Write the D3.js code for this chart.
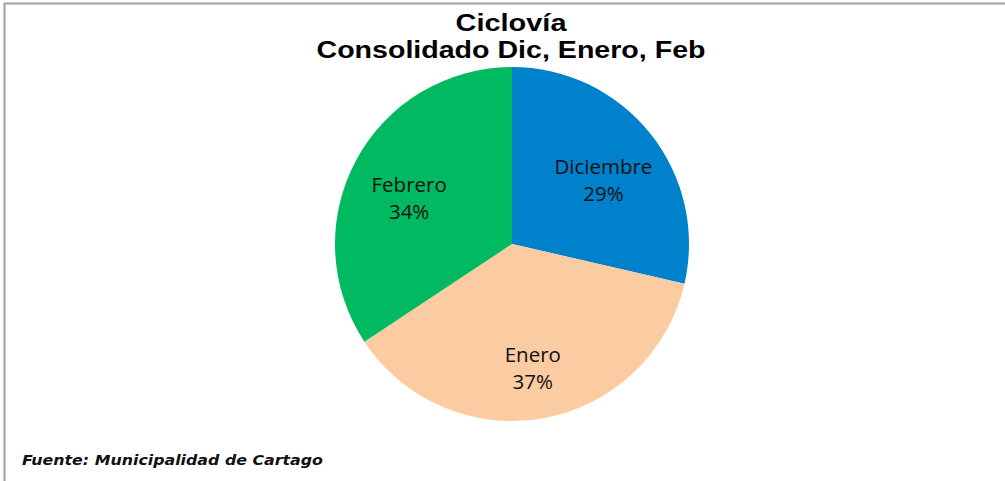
<!DOCTYPE html>
<html>
<head>
<meta charset="utf-8">
<script src="https://cdn.jsdelivr.net/npm/d3@7"></script>
<style>
  body { margin: 0; background: #fff; }
  svg { display: block; }
</style>
</head>
<body>
<div id="chart"></div>
<script>
// data (share of the three months)
const months = ["Diciembre", "Enero", "Febrero"];
const shares = [28.6, 37.1, 34.3];
const colors = ["#0081cc", "#fbcba1", "#00b960"];

const width = 1005;
const height = 481;

const svg = d3
  .select("#chart")
  .append("svg")
  .attr("width", width)
  .attr("height", height);

// chart area frame (only top and left edges show)
svg.append("path")
  .attr("d", `M4.5,${height} V3.5 H${width}`)
  .attr("fill", "none")
  .attr("stroke", "#a0a0a0")
  .attr("stroke-width", 2);

// title glyphs are stretched wide in the original, so stretch them too
const title = svg.append("text")
  .attr("text-anchor", "middle")
  .attr("font-family", "Liberation Sans, Arial, sans-serif")
  .attr("font-weight", "bold")
  .attr("font-size", 23)
  .attr("fill", "#000");
title.append("tspan").attr("x", 511).attr("y", 31)
  .attr("textLength", 111).attr("lengthAdjust", "spacingAndGlyphs")
  .text("Ciclovía");
title.append("tspan").attr("x", 511).attr("y", 58)
  .attr("textLength", 389).attr("lengthAdjust", "spacingAndGlyphs")
  .text("Consolidado Dic, Enero, Feb");

const cx = 512, cy = 244, radius = 177;

const pie = d3.pie().sort(null).value((d) => d.value);
const data = months.map((m, i) => ({ name: m, value: shares[i], color: colors[i] }));
const arcs = pie(data);
const total = d3.sum(shares);

const arc = d3.arc().innerRadius(0).outerRadius(radius);
const labelArc = d3.arc().innerRadius(radius * 0.66).outerRadius(radius * 0.66);

const g = svg.append("g").attr("transform", `translate(${cx},${cy})`);

g.selectAll("path.slice")
  .data(arcs)
  .enter()
  .append("path")
  .attr("class", "slice")
  .attr("d", arc)
  .attr("fill", (d) => d.data.color);

const labels = g.selectAll("text.lbl")
  .data(arcs)
  .enter()
  .append("text")
  .attr("class", "lbl")
  .attr("text-anchor", "middle")
  .attr("font-family", "Open Sans, Noto Sans, sans-serif")
  .attr("font-size", 20.5)
  .attr("fill", "#111")
  .attr("transform", (d) => {
    const [x, y] = labelArc.centroid(d);
    return `translate(${x},${y + 9})`;
  });

labels.append("tspan")
  .attr("x", 0)
  .attr("y", -6)
  .text((d) => d.data.name);
labels.append("tspan")
  .attr("x", 0)
  .attr("y", 21)
  .text((d) => Math.round((d.data.value / total) * 100) + "%");

svg.append("text")
  .attr("x", 22)
  .attr("y", 465)
  .attr("font-family", "DejaVu Sans, sans-serif")
  .attr("font-style", "italic")
  .attr("font-weight", "bold")
  .attr("font-size", 14)
  .attr("fill", "#111")
  .attr("textLength", 301)
  .attr("lengthAdjust", "spacingAndGlyphs")
  .text("Fuente: Municipalidad de Cartago");
</script>
</body>
</html>
